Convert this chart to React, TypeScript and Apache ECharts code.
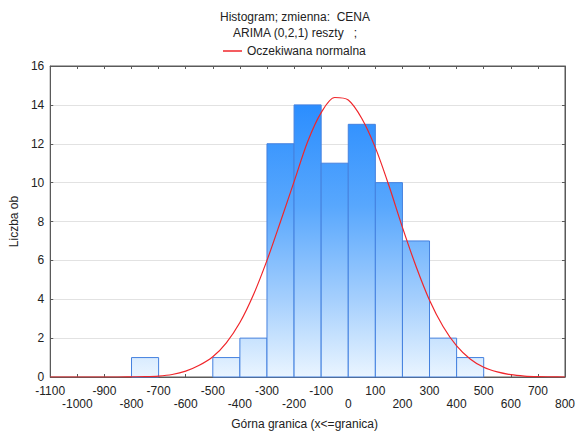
import React, { useEffect, useRef } from "react";
import * as echarts from "echarts";

// Histogram bins (lower edge) and counts
const binStarts = [-800, -700, -600, -500, -400, -300, -200, -100, 0, 100, 200, 300, 400];
const binCounts = [1, 0, 0, 1, 2, 12, 14, 11, 13, 10, 7, 2, 1];
const binWidth = 100;

// Expected normal curve
const curveX = [
  -1100, -1050, -1000, -950, -900, -850, -800, -750, -700, -650, -600, -550, -500, -450, -400,
  -350, -300, -250, -200, -150, -100, -50, 0, 50, 100, 150, 200, 250, 300, 350, 400, 450, 500,
  550, 600, 650, 700, 750, 800,
];
const curveY = [
  0, 0, 0, 0, 0, 0, 0.01, 0.02, 0.05, 0.13, 0.3, 0.6, 1.04, 1.76, 2.8,
  4.23, 6.0, 8.0, 10.05, 12.1, 13.6, 14.38, 14.25, 13.3, 11.8, 9.85, 7.7, 5.7, 3.95, 2.6, 1.6,
  0.93, 0.5, 0.26, 0.12, 0.05, 0.02, 0.01, 0,
];

const yTicks = { min: 0, max: 16, interval: 2 };
const xTicks = { min: -1100, max: 800, interval: 100 };

const titleLines = ["Histogram; zmienna:  CENA", "ARIMA (0,2,1) reszty   ;"];
const legendName = "Oczekiwana normalna";
const xName = "Górna granica (x<=granica)";
const yName = "Liczba ob";

const FONT = "'Liberation Sans', Arial, sans-serif";

export default function App() {
  const ref = useRef<HTMLDivElement>(null);
  useEffect(() => {
    document.body.style.margin = "0";
    if (!ref.current) return;
    const chart = echarts.init(ref.current, undefined, { renderer: "svg" });
    const barData = binStarts
      .map((s, i) => [s, s + binWidth, binCounts[i]])
      .filter((d) => d[2] > 0);
    const axisColor = "#5a5a5a";
    const rowOf = (v: number) => Math.round((v - xTicks.min) / xTicks.interval) % 2;
    const labelBase = { fontSize: 12, color: "#222", fontFamily: FONT, hideOverlap: false, showMinLabel: true, showMaxLabel: true };
    chart.setOption({
      animation: false,
      textStyle: { fontFamily: FONT },
      title: {
        text: titleLines.join("\n"),
        left: 295,
        top: 9,
        padding: 0,
        textAlign: "center",
        textStyle: { fontSize: 12, fontWeight: "normal", color: "#222", lineHeight: 16, fontFamily: FONT },
      },
      legend: {
        data: [{ name: legendName, icon: "rect" }],
        left: 223,
        top: 45,
        padding: 0,
        itemWidth: 19,
        itemHeight: 1.5,
        itemGap: 3,
        textStyle: { fontSize: 12, color: "#222", fontFamily: FONT, padding: [0, 0, 0, 0] },
      },
      grid: {
        left: 50,
        right: 10,
        top: 66,
        bottom: 54,
        show: true,
        borderColor: axisColor,
        borderWidth: 1,
        backgroundColor: "transparent",
      },
      xAxis: [
        {
          type: "value",
          position: "bottom",
          min: xTicks.min,
          max: xTicks.max,
          interval: xTicks.interval,
          name: xName,
          nameLocation: "middle",
          nameGap: 41,
          nameTextStyle: { fontSize: 12, color: "#222", fontFamily: FONT, padding: [0, 6, 0, 0] },
          axisLine: { show: true, onZero: false, lineStyle: { color: axisColor, width: 1 } },
          axisTick: { show: true, inside: true, length: 3, lineStyle: { color: axisColor } },
          splitLine: { show: false },
          axisLabel: {
            ...labelBase,
            margin: 8,
            formatter: (v: number) => (rowOf(v) === 0 ? String(v) : ""),
          },
        },
        {
          type: "value",
          position: "bottom",
          min: xTicks.min,
          max: xTicks.max,
          interval: xTicks.interval,
          axisLine: { show: false, onZero: false },
          axisTick: { show: false },
          splitLine: { show: false },
          axisLabel: {
            ...labelBase,
            margin: 21,
            formatter: (v: number) => (rowOf(v) === 1 ? String(v) : ""),
          },
        },
        {
          type: "value",
          position: "top",
          min: xTicks.min,
          max: xTicks.max,
          interval: xTicks.interval,
          axisLine: { show: true, onZero: false, lineStyle: { color: axisColor } },
          axisTick: { show: true, inside: true, length: 3, lineStyle: { color: axisColor } },
          axisLabel: { show: false },
          splitLine: { show: false },
        },
      ],
      yAxis: [
        {
          type: "value",
          position: "left",
          min: yTicks.min,
          max: yTicks.max,
          interval: yTicks.interval,
          name: yName,
          nameLocation: "middle",
          nameGap: 29,
          nameTextStyle: { fontSize: 12, color: "#222", fontFamily: FONT },
          axisLine: { show: true, onZero: false, lineStyle: { color: axisColor } },
          axisTick: { show: true, inside: true, length: 3, lineStyle: { color: axisColor } },
          axisLabel: { margin: 6, fontSize: 12, color: "#222", fontFamily: FONT },
          splitLine: { show: true, lineStyle: { color: "#e2e2e2", width: 1 } },
        },
        {
          type: "value",
          position: "right",
          min: yTicks.min,
          max: yTicks.max,
          interval: yTicks.interval,
          axisLine: { show: true, onZero: false, lineStyle: { color: axisColor } },
          axisTick: { show: true, inside: true, length: 3, lineStyle: { color: axisColor } },
          axisLabel: { show: false },
          splitLine: { show: false },
        },
      ],
      series: [
        {
          type: "custom",
          name: "Histogram",
          xAxisIndex: 0,
          yAxisIndex: 0,
          data: barData,
          encode: { x: [0, 1], y: 2 },
          renderItem: (params: any, api: any) => {
            const lo = api.value(0);
            const hi = api.value(1);
            const c = api.value(2);
            const p0 = api.coord([lo, c]);
            const p1 = api.coord([hi, 0]);
            const top = api.coord([lo, yTicks.max])[1];
            return {
              type: "rect",
              shape: { x: p0[0], y: p0[1], width: p1[0] - p0[0], height: p1[1] - p0[1] },
              style: {
                fill: {
                  type: "linear",
                  x: 0,
                  y: top,
                  x2: 0,
                  y2: p1[1],
                  global: true,
                  colorStops: [
                    { offset: 0, color: "#1a84ff" },
                    { offset: 0.45, color: "#58a7fd" },
                    { offset: 0.75, color: "#a5cffd" },
                    { offset: 1, color: "#eaf5ff" },
                  ],
                },
                stroke: "#4481df",
                lineWidth: 1,
              },
            };
          },
          z: 2,
        },
        {
          type: "line",
          name: legendName,
          xAxisIndex: 0,
          yAxisIndex: 0,
          data: curveX.map((x, i) => [x, curveY[i]]),
          symbol: "none",
          smooth: 0.3,
          lineStyle: { color: "#f0262b", width: 1.2 },
          itemStyle: { color: "#f0262b" },
          z: 3,
        },
      ],
    });
    return () => chart.dispose();
  }, []);
  return <div ref={ref} style={{ width: 578, height: 435 }} />;
}
